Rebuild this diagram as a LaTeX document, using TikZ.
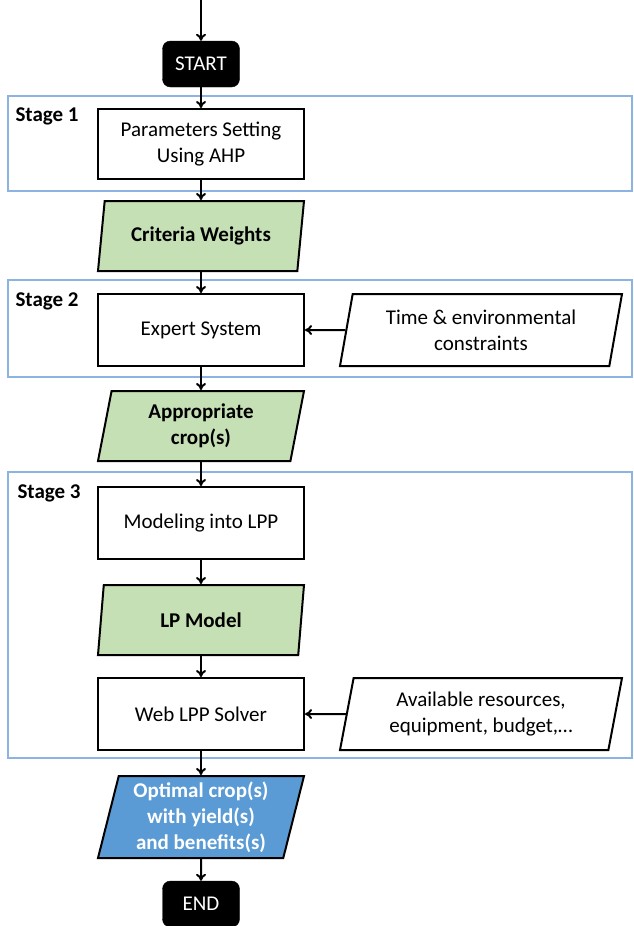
\documentclass[tikz,border=0pt]{standalone}
\usepackage{fontspec}
\setmainfont{Carlito}
\usepackage{tikz}
\usetikzlibrary{shapes.geometric, arrows.meta}
\definecolor{stageblue}{HTML}{8DB3E2}
\definecolor{outgreen}{HTML}{C5E0B4}
\definecolor{outblue}{HTML}{5B9BD5}

\tikzset{
  txt/.style={font=\fontsize{21}{26}\selectfont, align=center},
  boldtxt/.style={font=\fontsize{21}{26}\selectfont\bfseries},
  term/.style={txt, draw=black, fill=black, text=white, rounded corners=8pt,
    minimum width=77pt, minimum height=46pt},
  proc/.style={txt, draw=black, line width=2pt, fill=white,
    minimum width=206pt, minimum height=70pt},
  data/.style={txt, trapezium, trapezium left angle=75, trapezium right angle=105,
    trapezium stretches body, draw=black, line width=2pt, fill=white,
    minimum width=206pt, minimum height=70pt, inner xsep=2pt},
  stageframe/.style={draw=stageblue, line width=1.6pt},
  stagelbl/.style={boldtxt, anchor=west},
  flow/.style={line width=2pt, -{To[length=7pt,width=10pt]}},
}

\begin{document}
\begin{tikzpicture}[x=1pt, y=-1pt]
\useasboundingbox (0,0) rectangle (634,926);

% the three stage frames
\draw[stageframe] (8,96) rectangle (632,191);
\draw[stageframe] (8,280) rectangle (632,377);
\draw[stageframe] (8,472) rectangle (632,758);
\node[stagelbl] (s1) at (12,116) {Stage 1};
\node[stagelbl] (s2) at (12,301) {Stage 2};
\node[stagelbl] (s3) at (14,493) {Stage 3};

% main column
\coordinate (entry) at (201,0);
\node[term] (start) at (201,64) {START};
\node[proc] (param) at (201,144) {Parameters Setting\\Using AHP};
\node[data, fill=outgreen, boldtxt] (weights) at (201,236) {Criteria Weights};
\node[proc, minimum height=72pt] (expert) at (201,330) {Expert System};
\node[data, fill=outgreen, boldtxt] (crops) at (201,426) {Appropriate\\crop(s)};
\node[proc, minimum height=72pt] (model) at (201,523) {Modeling into LPP};
\node[data, fill=outgreen, boldtxt] (lpm) at (201,620) {LP Model};
\node[proc, minimum height=72pt] (solver) at (201,714) {Web LPP Solver};
\node[data, fill=outblue, text=white, minimum height=82pt, boldtxt] (optimal) at (201,817) {Optimal crop(s)\\with yield(s)\\and benefits(s)};
\node[term] (end) at (201,904) {END};

% side inputs
\node[data, minimum width=282pt, minimum height=72pt] (limits) at (481,330) {Time \& environmental\\constraints};
\node[data, minimum width=282pt, minimum height=72pt] (resources) at (481,714) {Available resources,\\equipment, budget,\dots};

\draw[flow] (entry) -- (start);
\draw[flow] (start) -- (param);
\draw[flow] (param) -- (weights);
\draw[flow] (weights) -- (expert);
\draw[flow] (expert) -- (crops);
\draw[flow] (crops) -- (model);
\draw[flow] (model) -- (lpm);
\draw[flow] (lpm) -- (solver);
\draw[flow] (solver) -- (optimal);
\draw[flow] (optimal) -- (end);
\draw[flow] (limits) -- (expert);
\draw[flow] (resources) -- (solver);

\end{tikzpicture}
\end{document}
